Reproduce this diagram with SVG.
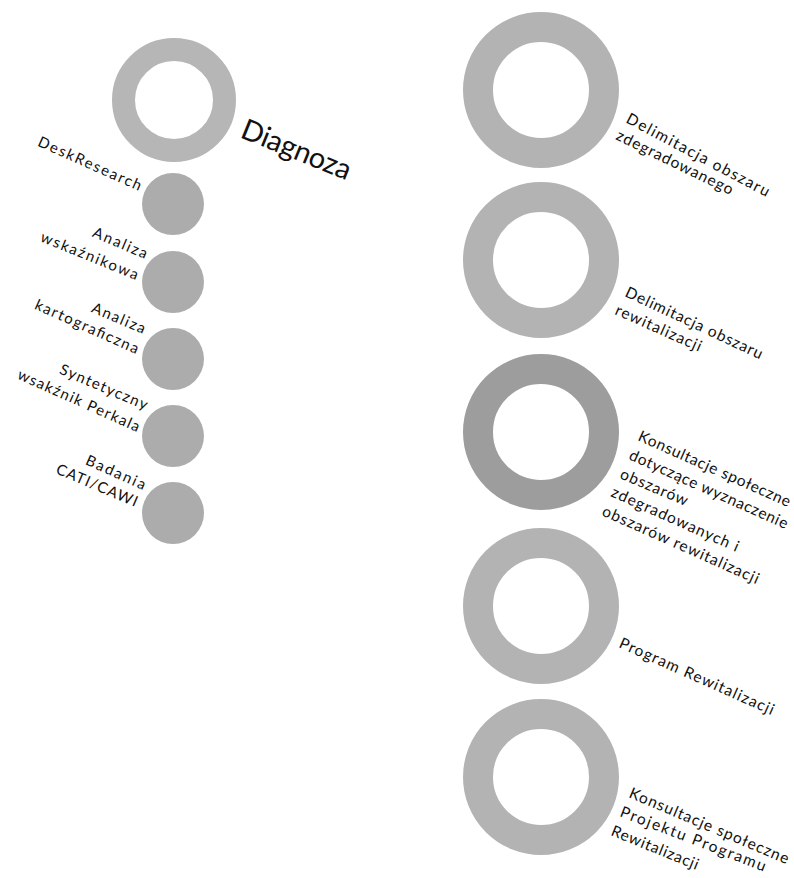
<svg xmlns="http://www.w3.org/2000/svg" width="794" height="878" viewBox="0 0 794 878">
<style>
.ring{fill:none;stroke:#b3b3b3;stroke-width:30}
.ring.dark{stroke:#9d9d9d}
.bigring{fill:none;stroke:#b6b6b6;stroke-width:23}
.dot{fill:#acacac}
.lbl{font-family:Lato,"Liberation Sans",sans-serif;fill:#111}
.l{font-size:15px;text-anchor:end}
.r{font-size:15.5px;text-anchor:start}
.title{font-size:29px}
</style>
<rect width="794" height="878" fill="#ffffff"/>
<g id="diagnoza">
  <circle class="bigring" cx="174" cy="100" r="50.5"/>
  <text class="lbl title" transform="translate(239,137) rotate(22)" textLength="116">Diagnoza</text>
</g>
<g id="desk-research">
  <circle class="dot" cx="173" cy="204" r="31"/>
  <text class="lbl l" transform="translate(139,191) rotate(24)" textLength="112">DeskResearch</text>
</g>
<g id="analiza-wskaznikowa">
  <circle class="dot" cx="173" cy="282" r="31"/>
  <text class="lbl l" transform="translate(145,259) rotate(23)" textLength="58">Analiza</text>
  <text class="lbl l" transform="translate(136,280) rotate(22)" textLength="104">wskaźnikowa</text>
</g>
<g id="analiza-kartograficzna">
  <circle class="dot" cx="173" cy="359" r="31"/>
  <text class="lbl l" transform="translate(143,334) rotate(23)" textLength="57">Analiza</text>
  <text class="lbl l" transform="translate(136,354) rotate(24)" textLength="112">kartograficzna</text>
</g>
<g id="syntetyczny-wskaznik">
  <circle class="dot" cx="173" cy="436" r="31"/>
  <text class="lbl l" transform="translate(145,410) rotate(23)" textLength="94">Syntetyczny</text>
  <text class="lbl l" transform="translate(137,432) rotate(24)" textLength="132">wsakźnik Perkala</text>
</g>
<g id="badania">
  <circle class="dot" cx="173" cy="513" r="31"/>
  <text class="lbl l" transform="translate(143,490) rotate(24)" textLength="64">Badania</text>
  <text class="lbl l" transform="translate(135,507) rotate(23)" textLength="87">CATI/CAWI</text>
</g>
<g id="delimitacja-zdegradowanego">
  <circle class="ring" cx="541" cy="90" r="63"/>
  <text class="lbl r" transform="translate(625,122) rotate(28)" textLength="160">Delimitacja obszaru</text>
  <text class="lbl r" transform="translate(615,139) rotate(26)" textLength="128">zdegradowanego</text>
</g>
<g id="delimitacja-rewitalizacji">
  <circle class="ring" cx="541" cy="260" r="63"/>
  <text class="lbl r" transform="translate(624,296) rotate(25)" textLength="150">Delimitacja obszaru</text>
  <text class="lbl r" transform="translate(614,314) rotate(24)" textLength="93">rewitalizacji</text>
</g>
<g id="konsultacje-obszary">
  <circle class="ring dark" cx="541" cy="432" r="63"/>
  <text class="lbl r" transform="translate(637,440) rotate(24)" textLength="165">Konsultacje społeczne</text>
  <text class="lbl r" transform="translate(628,459) rotate(24)" textLength="172">dotyczące wyznaczenie</text>
  <text class="lbl r" transform="translate(619,478) rotate(23)" textLength="72">obszarów</text>
  <text class="lbl r" transform="translate(610,496) rotate(24)" textLength="138">zdegradowanych i</text>
  <text class="lbl r" transform="translate(601,515) rotate(24)" textLength="170">obszarów rewitalizacji</text>
</g>
<g id="program-rewitalizacji">
  <circle class="ring" cx="541" cy="606" r="63"/>
  <text class="lbl r" transform="translate(618,647) rotate(24)" textLength="168">Program Rewitalizacji</text>
</g>
<g id="konsultacje-projektu">
  <circle class="ring" cx="541" cy="777" r="63"/>
  <text class="lbl r" transform="translate(628,797) rotate(23)" textLength="172">Konsultacje społeczne</text>
  <text class="lbl r" transform="translate(619,816) rotate(21)" textLength="155">Projektu Programu</text>
  <text class="lbl r" transform="translate(610,835) rotate(22)" textLength="93">Rewitalizacji</text>
</g>
</svg>
